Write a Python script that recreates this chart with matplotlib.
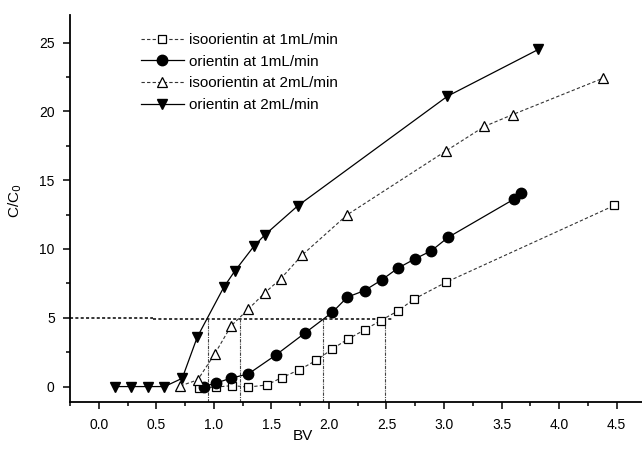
import matplotlib.pyplot as plt
from matplotlib.ticker import MultipleLocator

plt.rcParams['font.family'] = ['Liberation Sans', 'DejaVu Sans']

# isoorientin at 1 mL/min
iso1_x = [0.87, 1.015, 1.16, 1.30, 1.46, 1.59, 1.74, 1.89, 2.03, 2.165, 2.31, 2.45, 2.60, 2.74, 3.02, 4.48]
iso1_y = [-0.1, -0.04, 0.07, -0.04, 0.12, 0.65, 1.21, 1.9, 2.74, 3.45, 4.12, 4.8, 5.5, 6.36, 7.59, 13.16]

# orientin at 1 mL/min
ori1_x = [0.91, 1.015, 1.15, 1.30, 1.54, 1.79, 2.03, 2.16, 2.31, 2.46, 2.60, 2.75, 2.89, 3.035, 3.61, 3.67]
ori1_y = [0.0, 0.25, 0.61, 0.92, 2.3, 3.88, 5.4, 6.5, 6.98, 7.76, 8.61, 9.29, 9.87, 10.84, 13.63, 14.1]

# isoorientin at 2 mL/min
iso2_x = [0.71, 0.86, 1.006, 1.15, 1.30, 1.44, 1.58, 1.77, 2.16, 3.02, 3.35, 3.595, 4.38]
iso2_y = [0.05, 0.49, 2.35, 4.41, 5.63, 6.79, 7.83, 9.58, 12.49, 17.14, 18.9, 19.76, 22.4]

# orientin at 2 mL/min
ori2_x = [0.145, 0.276, 0.426, 0.571, 0.725, 0.856, 1.087, 1.18, 1.348, 1.444, 1.73, 3.03, 3.82]
ori2_y = [0.0, 0.0, 0.0, 0.0, 0.6, 3.6, 7.23, 8.37, 10.2, 11.03, 13.14, 21.1, 24.5]

# breakthrough guide lines (C/C0 = 5)
break_bv = [0.95, 1.23, 1.95, 2.49]

fig = plt.figure(figsize=(6.42, 4.54), dpi=100)
ax = fig.add_axes([70 / 642, 52.3 / 454, 572 / 642, 386.7 / 454])

dash = (0, (3, 2))
ax.plot(iso1_x, iso1_y, linestyle=dash, color='#333333', lw=0.8, marker='s', ms=6.3,
        mfc='white', mec='black', mew=0.9, label='isoorientin at 1mL/min', zorder=3)
ax.plot(ori1_x, ori1_y, '-', color='black', lw=0.9, marker='o', ms=7.5,
        mfc='black', mec='black', label='orientin at 1mL/min', zorder=3)
ax.plot(iso2_x, iso2_y, linestyle=dash, color='#333333', lw=0.8, marker='^', ms=7.5,
        mfc='white', mec='black', mew=0.9, label='isoorientin at 2mL/min', zorder=3)
ax.plot(ori2_x, ori2_y, '-', color='black', lw=0.9, marker='v', ms=7.5,
        mfc='black', mec='black', label='orientin at 2mL/min', zorder=3)

# horizontal C/C0 = 5 guide (two pieces, slightly offset as in the original)
ax.plot([-0.25, 0.47], [5.0, 5.0], linestyle=(0, (2, 1.5)), color='black', lw=1.1, zorder=2)
ax.plot([0.47, 2.56], [4.9, 4.9], linestyle=(0, (2, 1.5)), color='black', lw=1.1, zorder=2)
for bv in break_bv:
    ax.plot([bv, bv], [-1.1, 4.9], linestyle=(0, (3, 1, 1, 1)), color='#444444', lw=0.8, zorder=2)

ax.set_xlim(-0.25, 4.72)
ax.set_ylim(-1.1, 27.0)
ax.xaxis.set_major_locator(MultipleLocator(0.5))
ax.xaxis.set_minor_locator(MultipleLocator(0.25))
ax.yaxis.set_major_locator(MultipleLocator(5))
ax.yaxis.set_minor_locator(MultipleLocator(2.5))
ax.xaxis.set_major_formatter(lambda v, p: f'{v:.1f}')

for s in ['top', 'right']:
    ax.spines[s].set_visible(False)
for s in ['left', 'bottom']:
    ax.spines[s].set_linewidth(1.3)

ax.tick_params(which='major', direction='out', length=5, width=1.1, labelsize=10, pad=7)
ax.tick_params(which='minor', direction='out', length=3, width=1.1)
ax.tick_params(axis='y', pad=6)

ax.set_xlabel('BV', fontsize=11)
ax.xaxis.set_label_coords(0.407, -0.07)
ax.set_ylabel('C/C$_0$', fontsize=11)
ax.yaxis.set_label_coords(-0.08, 0.52)

ax.legend(loc='upper left', bbox_to_anchor=(141 / 642, 1 - 33 / 454), bbox_transform=fig.transFigure,
          frameon=False, fontsize=11, handlelength=2.8, handletextpad=0.35,
          labelspacing=0.5, borderpad=0, borderaxespad=0)

plt.savefig('out.png', dpi=100)
